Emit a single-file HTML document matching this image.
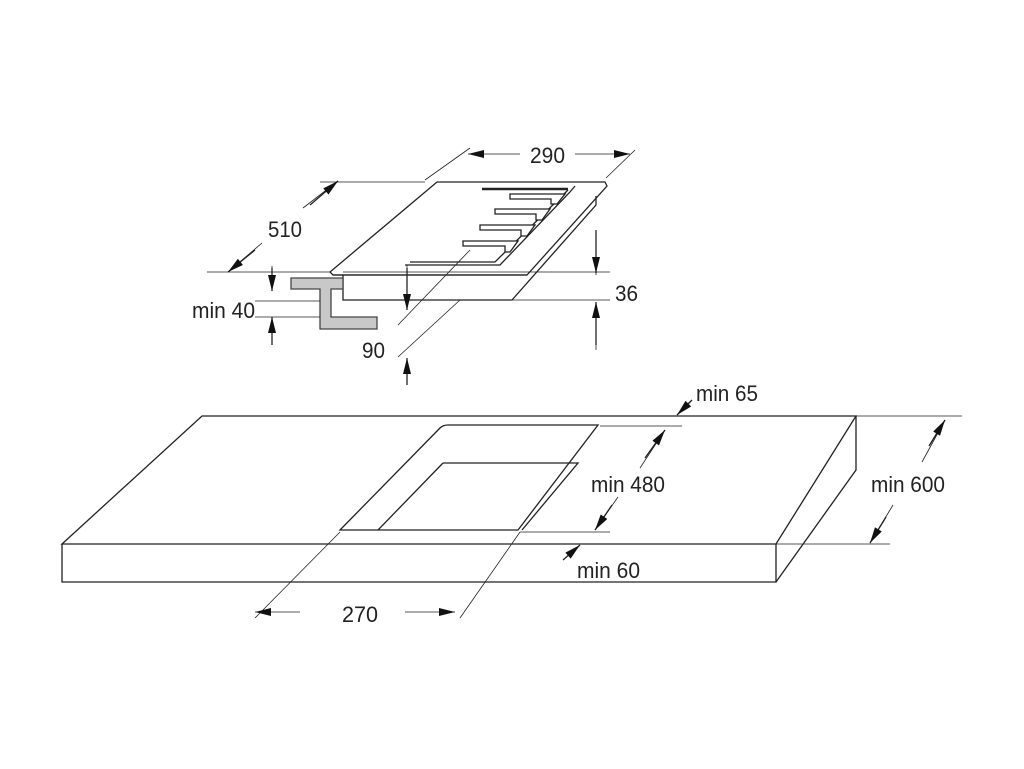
<!DOCTYPE html>
<html><head><meta charset="utf-8"><style>
html,body{margin:0;padding:0;background:#fff;}
svg{display:block}
text{font-family:"Liberation Sans",sans-serif;font-size:22px;fill:#222}
</style></head><body>
<svg width="1024" height="769" viewBox="0 0 1024 769" xmlns="http://www.w3.org/2000/svg">
<defs>
<marker id="a" viewBox="0 0 12 6" refX="12" refY="3" markerWidth="18" markerHeight="8" markerUnits="userSpaceOnUse" orient="auto"><path d="M0,0 L12,3 L0,6 z" fill="#111"/></marker>
</defs>
<g fill="none" stroke="#222" stroke-width="1.3">
<path d="M437,182 L605,182 L607,186 L527,275 L333,275 L330,272 Z" fill="#fff"/>
<path d="M333,275 L527,275"/>
<path d="M343,275 L343,300 L512,300 L596,205 L596,196"/>
<path d="M575,186 L570,192 L500,265 L405,265"/>
<path d="M568,190 L495,262 L410,262"/>
<path d="M482,189 L568,189" stroke-width="2.5"/>
<path d="M510,194 L565,194 L557,204 L551,204 L551,199 L510,199 Z" fill="#fff"/>
<path d="M495,209 L550,209 L542,220 L536,220 L536,214 L495,214 Z" fill="#fff"/>
<path d="M480,225 L535,225 L527,236 L521,236 L521,230 L480,230 Z" fill="#fff"/>
<path d="M463,241 L518,241 L510,252 L505,252 L505,246 L463,246 Z" fill="#fff"/>
<path d="M291,278 L343,278 L343,289 L331,289 L331,317 L377,317 L377,329 L320,329 L320,289 L291,289 Z" fill="#c8c8c8" stroke="#444"/>
<g stroke-width="0.8">
<path d="M320,182 L425,182"/>
<path d="M207,272 L330,272"/>
<path d="M425,180 L470,148 M606,178 L635,150"/>
<path d="M343,272 L610,272 M343,300 L610,300"/>
<path d="M596,230 L596,275 M596,303 L596,350"/>
<path d="M255,301 L320,301 M255,317 L320,317"/>
<path d="M272,266 L272,290 M272,318 L272,345"/>
<path d="M407,265 L407,310 M407,360 L407,385"/>
<path d="M398,325 L470,250 M398,357 L460,300"/>
<path d="M228,272 L262,243 M303,208 L338,181"/>
<path d="M665,430 L640,468 M618,497 L595,530"/>
<path d="M945,420 L922,462 M893,505 L870,543"/>
</g>
<path d="M255,250 L228,272" marker-end="url(#a)"/>
<path d="M310,205 L338,181" marker-end="url(#a)"/>
<path d="M520,154 L468,154" marker-end="url(#a)" stroke-width="0.8"/>
<path d="M575,154 L630,154" marker-end="url(#a)" stroke-width="0.8"/>
<path d="M272,268 L272,291" marker-end="url(#a)"/>
<path d="M272,345 L272,317" marker-end="url(#a)"/>
<path d="M407,268 L407,310" marker-end="url(#a)"/>
<path d="M407,385 L407,358" marker-end="url(#a)"/>
<path d="M596,230 L596,273" marker-end="url(#a)"/>
<path d="M596,345 L596,302" marker-end="url(#a)"/>

<path d="M202,416 L856,416 L776,544 L62,544 Z"/>
<path d="M62,544 L62,582 L776,582 L776,544"/>
<path d="M856,416 L856,470 L776,582"/>
<path d="M440,428 Q443,425 448,425 L598,425 L518,530 L340,530 Z"/>
<path d="M443,463 L578,463 L522,530 M443,463 L378,530"/>
<g stroke-width="0.8">
<path d="M600,426 L682,426 M520,532 L610,532"/>
<path d="M856,416 L962,416 M776,544 L890,544"/>
<path d="M340,532 L255,618 M520,532 L460,618"/>
</g>
<path d="M645,458 L665,430" marker-end="url(#a)"/>
<path d="M612,505 L595,530" marker-end="url(#a)"/>
<path d="M929,446 L945,420" marker-end="url(#a)"/>
<path d="M886,517 L870,543" marker-end="url(#a)"/>
<path d="M692,400 L677,415" marker-end="url(#a)"/>
<path d="M563,560 L580,545" marker-end="url(#a)"/>
<path d="M300,612 L255,612" marker-end="url(#a)" stroke-width="0.8"/>
<path d="M405,612 L455,612" marker-end="url(#a)" stroke-width="0.8"/>
</g>
<text x="530" y="163" textLength="35" lengthAdjust="spacingAndGlyphs">290</text>
<text x="268" y="237" textLength="34" lengthAdjust="spacingAndGlyphs">510</text>
<text x="615" y="301" textLength="23" lengthAdjust="spacingAndGlyphs">36</text>
<text x="192" y="318" textLength="63" lengthAdjust="spacingAndGlyphs">min 40</text>
<text x="362" y="358" textLength="23" lengthAdjust="spacingAndGlyphs">90</text>
<text x="696" y="401" textLength="62" lengthAdjust="spacingAndGlyphs">min 65</text>
<text x="591" y="492" textLength="74" lengthAdjust="spacingAndGlyphs">min 480</text>
<text x="871" y="492" textLength="74" lengthAdjust="spacingAndGlyphs">min 600</text>
<text x="577" y="578" textLength="63" lengthAdjust="spacingAndGlyphs">min 60</text>
<text x="342" y="622" textLength="36" lengthAdjust="spacingAndGlyphs">270</text>
</svg>
</body></html>
